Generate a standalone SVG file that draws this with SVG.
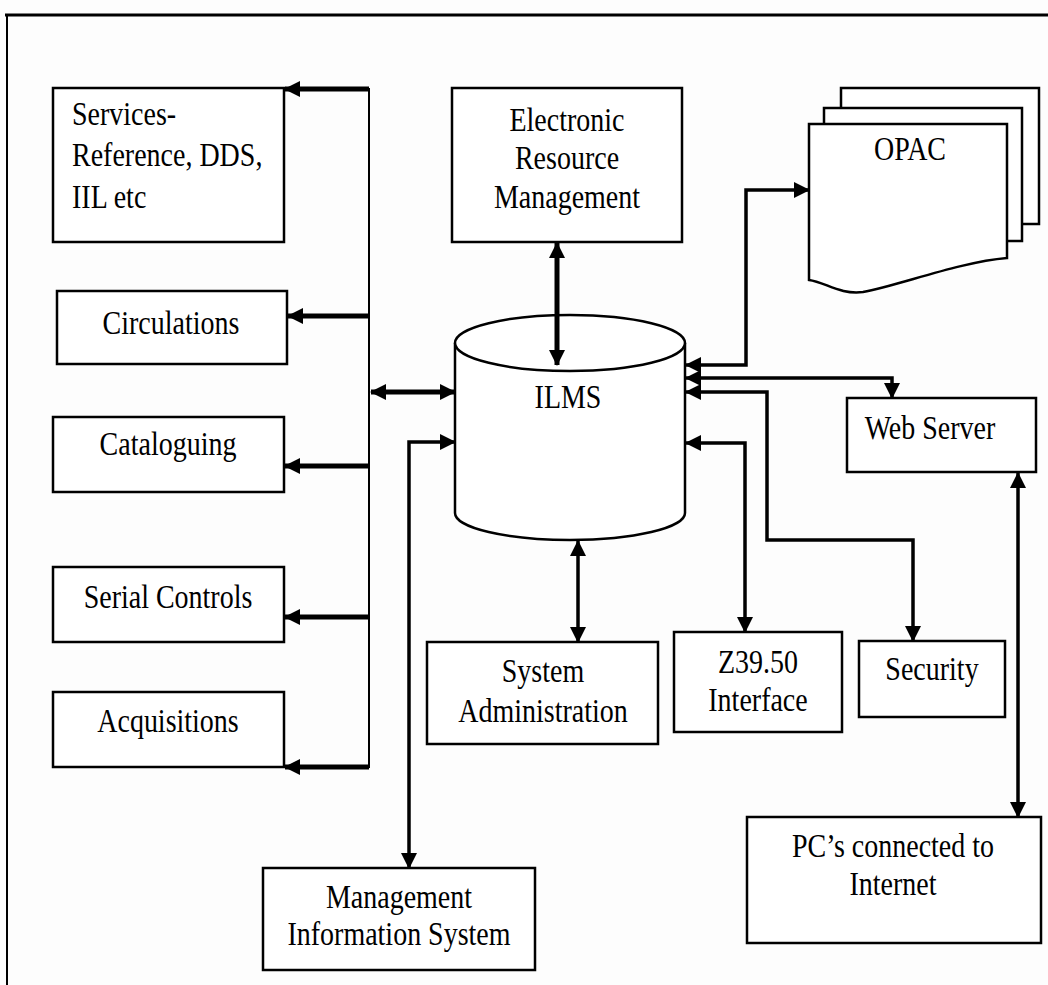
<svg xmlns="http://www.w3.org/2000/svg" width="1048" height="985" viewBox="0 0 1048 985">
  <style>
    .box { fill: #ffffff; stroke: #000; stroke-width: 2.5; }
    .lbl { font-family: "Liberation Serif", "Times New Roman", serif; font-size: 28px; fill: #000; }
    .mid { text-anchor: middle; }
    .wire { fill: none; stroke: #000; stroke-linejoin: miter; }
    .thick { stroke-width: 5; }
    .med { stroke-width: 3.5; }
    .thin { stroke-width: 2; }
  </style>
  <defs>
    <marker id="head" viewBox="0 0 16 16" refX="15" refY="8" markerWidth="16" markerHeight="16" markerUnits="userSpaceOnUse" orient="auto-start-reverse">
      <path d="M0,0 L16,8 L0,16 z" fill="#000"/>
    </marker>
  </defs>

  <rect x="0" y="0" width="1048" height="985" fill="#fdfdfd"/>

  <!-- page frame -->
  <g id="frame" stroke="#000" fill="none">
    <line x1="5" y1="15" x2="1048" y2="15" stroke-width="3"/>
    <line x1="7" y1="14" x2="7" y2="985" stroke-width="2"/>
  </g>

  <g id="services">
    <rect class="box" x="53" y="88" width="231" height="154"/>
    <text class="lbl" transform="translate(72,125) scale(1,1.18)"><tspan x="0" y="0">Services-</tspan><tspan x="0" dy="35">Reference, DDS,</tspan><tspan x="0" dy="35">IIL etc</tspan></text>
  </g>

  <g id="circulations">
    <rect class="box" x="57" y="291" width="230" height="73"/>
    <text class="lbl mid" transform="translate(171,334) scale(1,1.18)">Circulations</text>
  </g>

  <g id="cataloguing">
    <rect class="box" x="53" y="417" width="231" height="75"/>
    <text class="lbl mid" transform="translate(168,455) scale(1,1.18)">Cataloguing</text>
  </g>

  <g id="serial-controls">
    <rect class="box" x="53" y="567" width="231" height="75"/>
    <text class="lbl mid" transform="translate(168,608) scale(1,1.18)">Serial Controls</text>
  </g>

  <g id="acquisitions">
    <rect class="box" x="53" y="692" width="231" height="75"/>
    <text class="lbl mid" transform="translate(168,732) scale(1,1.18)">Acquisitions</text>
  </g>

  <g id="erm">
    <rect class="box" x="452" y="88" width="230" height="154"/>
    <text class="lbl mid" transform="translate(567,131) scale(1,1.18)"><tspan x="0" y="0">Electronic</tspan><tspan x="0" dy="32">Resource</tspan><tspan x="0" dy="33">Management</tspan></text>
  </g>

  <g id="opac">
    <rect class="box" x="841" y="88" width="198" height="136"/>
    <rect class="box" x="824" y="108" width="198" height="133"/>
    <path class="box" d="M809,124 H1007 V258 C960,262 900,285 863,292 C840,295 825,282 809,280 Z"/>
    <text class="lbl mid" transform="translate(910,160) scale(1,1.18)">OPAC</text>
  </g>

  <g id="ilms">
    <path class="box" d="M455,343 V513 A115,27 0 0 0 685,513 V343"/>
    <ellipse class="box" cx="570" cy="343" rx="115" ry="28"/>
    <text class="lbl mid" transform="translate(568,408) scale(1,1.18)">ILMS</text>
  </g>

  <g id="web-server">
    <rect class="box" x="847" y="398" width="189" height="74"/>
    <text class="lbl mid" transform="translate(930,439) scale(1,1.18)">Web Server</text>
  </g>

  <g id="system-administration">
    <rect class="box" x="427" y="642" width="231" height="102"/>
    <text class="lbl mid" transform="translate(543,682) scale(1,1.18)"><tspan x="0" y="0">System</tspan><tspan x="0" dy="34">Administration</tspan></text>
  </g>

  <g id="z3950">
    <rect class="box" x="674" y="632" width="168" height="100"/>
    <text class="lbl mid" transform="translate(758,673) scale(1,1.18)"><tspan x="0" y="0">Z39.50</tspan><tspan x="0" dy="32">Interface</tspan></text>
  </g>

  <g id="security">
    <rect class="box" x="859" y="641" width="146" height="76"/>
    <text class="lbl mid" transform="translate(932,680) scale(1,1.18)">Security</text>
  </g>

  <g id="pcs">
    <rect class="box" x="747" y="817" width="294" height="126"/>
    <text class="lbl mid" transform="translate(893,857) scale(1,1.18)"><tspan x="0" y="0">PC’s connected to</tspan><tspan x="0" dy="32">Internet</tspan></text>
  </g>

  <g id="mis">
    <rect class="box" x="263" y="868" width="272" height="102"/>
    <text class="lbl mid" transform="translate(399,908) scale(1,1.18)"><tspan x="0" y="0">Management</tspan><tspan x="0" dy="31">Information System</tspan></text>
  </g>

  <!-- connectors, drawn last so the ERM link shows over the cylinder top -->
  <g id="connectors">
    <line class="wire thin" x1="369" y1="88" x2="369" y2="768"/>
    <line class="wire thick" x1="369" y1="89" x2="285" y2="89" marker-end="url(#head)"/>
    <line class="wire thick" x1="369" y1="316" x2="288" y2="316" marker-end="url(#head)"/>
    <line class="wire thick" x1="369" y1="466" x2="285" y2="466" marker-end="url(#head)"/>
    <line class="wire thick" x1="369" y1="617" x2="285" y2="617" marker-end="url(#head)"/>
    <line class="wire thick" x1="369" y1="767" x2="285" y2="767" marker-end="url(#head)"/>
    <line class="wire thick" x1="371" y1="392" x2="455" y2="392" marker-start="url(#head)" marker-end="url(#head)"/>
    <line class="wire thick" x1="557" y1="243" x2="557" y2="365" marker-start="url(#head)" marker-end="url(#head)"/>
    <path class="wire med" d="M455,442 H409 V868" marker-start="url(#head)" marker-end="url(#head)"/>
    <line class="wire med" x1="578" y1="541" x2="578" y2="642" marker-start="url(#head)" marker-end="url(#head)"/>
    <path class="wire med" d="M686,365 H746 V190 H809" marker-start="url(#head)" marker-end="url(#head)"/>
    <path class="wire med" d="M686,378 H892 V398" marker-start="url(#head)" marker-end="url(#head)"/>
    <path class="wire med" d="M686,392 H767 V540 H913 V641" marker-start="url(#head)" marker-end="url(#head)"/>
    <path class="wire med" d="M686,443 H745 V632" marker-start="url(#head)" marker-end="url(#head)"/>
    <line class="wire med" x1="1018" y1="473" x2="1018" y2="817" marker-start="url(#head)" marker-end="url(#head)"/>
  </g>
</svg>
